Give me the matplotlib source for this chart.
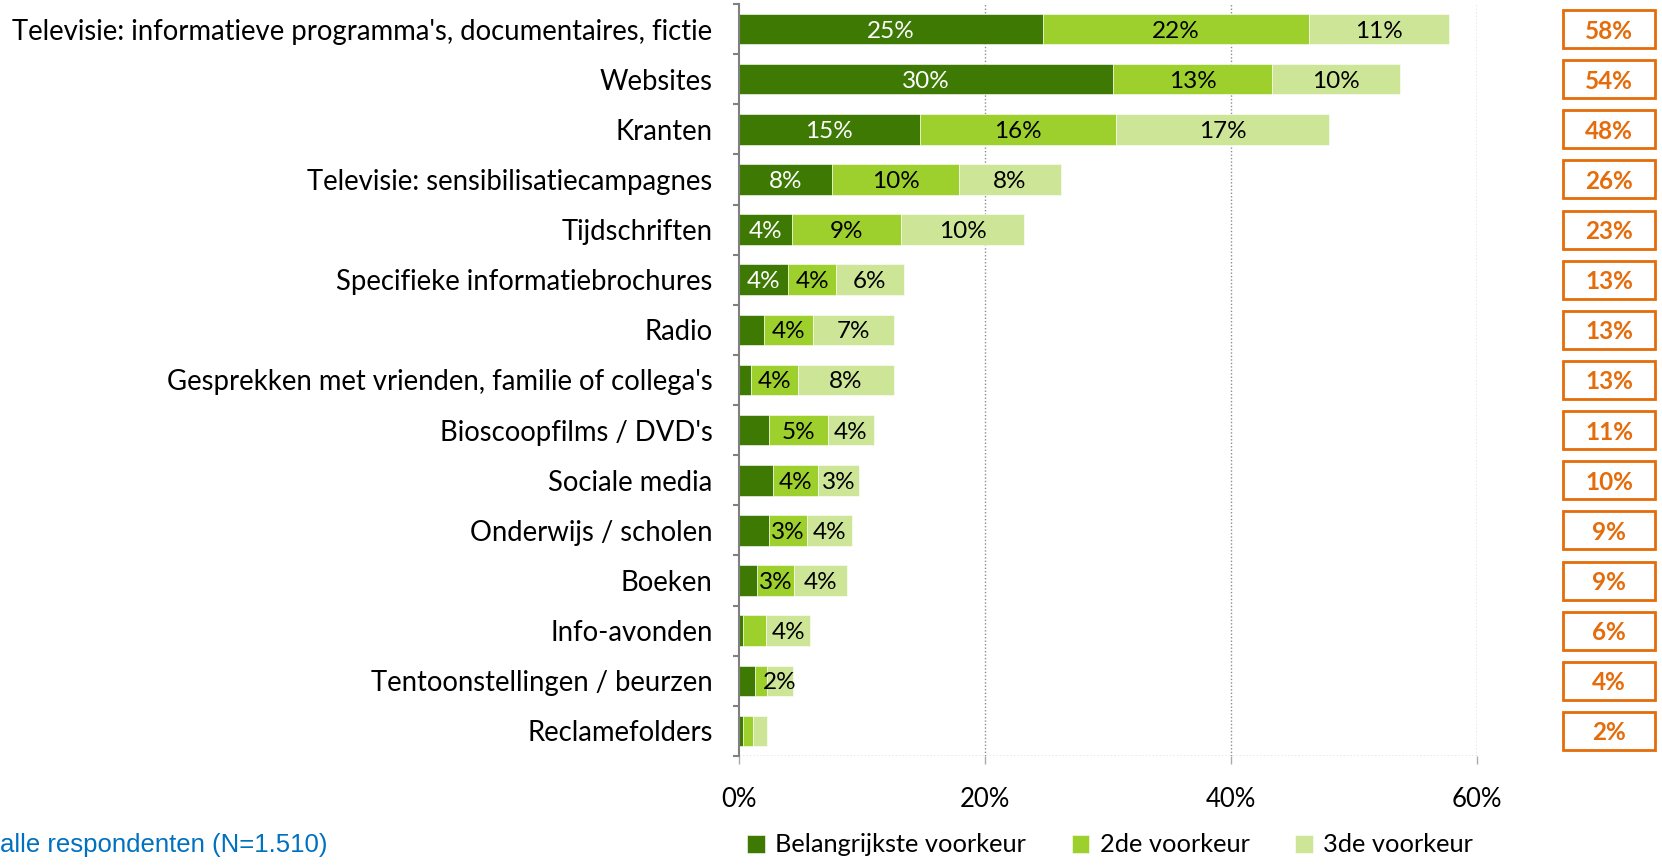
import numpy as np
import matplotlib
matplotlib.use("Agg")
import matplotlib.pyplot as plt
from matplotlib.patches import Rectangle

plt.rcParams['font.family'] = ['Lato', 'DejaVu Sans']

# Media sources, ranked by total preference share
categories = [
    "Televisie: informatieve programma's, documentaires, fictie",
    "Websites",
    "Kranten",
    "Televisie: sensibilisatiecampagnes",
    "Tijdschriften",
    "Specifieke informatiebrochures",
    "Radio",
    "Gesprekken met vrienden, familie of collega's",
    "Bioscoopfilms / DVD's",
    "Sociale media",
    "Onderwijs / scholen",
    "Boeken",
    "Info-avonden",
    "Tentoonstellingen / beurzen",
    "Reclamefolders",
]

# Percent of respondents naming each source as 1st / 2nd / 3rd choice
first_pref = [24.7, 30.4, 14.7, 7.6, 4.3, 4.0, 2.0, 1.0, 2.4, 2.8, 2.4, 1.5, 0.3, 1.3, 0.3]
second_pref = [21.7, 13.0, 16.0, 10.3, 8.9, 3.9, 4.0, 3.8, 4.8, 3.6, 3.1, 3.0, 1.9, 1.0, 0.8]
third_pref = [11.4, 10.4, 17.3, 8.3, 10.0, 5.5, 6.6, 7.8, 3.8, 3.4, 3.7, 4.3, 3.6, 2.1, 1.2]

series_names = ["Belangrijkste voorkeur", "2de voorkeur", "3de voorkeur"]
series_colors = ["#3E7A03", "#9DCF2D", "#CDE597"]
label_colors = ["white", "black", "black"]
label_min = [3.5, 2.0, 2.0]   # segments narrower than this get no label

xticks = [0, 20, 40, 60]

W, H = 1662, 865
fig = plt.figure(figsize=(W / 100, H / 100), dpi=100)
ax = fig.add_axes([739 / W, 1 - 756 / H, (1476.5 - 739) / W, (756 - 4) / H])

y = np.arange(len(categories))
left = np.zeros(len(categories))
for vals, name, col, tcol, vmin in zip([first_pref, second_pref, third_pref],
                                       series_names, series_colors, label_colors, label_min):
    vals = np.array(vals)
    ax.barh(y, vals, left=left, height=0.61, color=col, label=name,
            edgecolor='white', linewidth=0.4)
    for yi, (l, v) in enumerate(zip(left, vals)):
        if v >= vmin:
            ax.text(l + v / 2, yi, f"{v:.0f}%", ha='center', va='center_baseline',
                    color=tcol, fontsize=17.5)
    left = left + vals

ax.set_xlim(0, 60)
ax.set_ylim(len(categories) - 0.5, -0.5)

# Axes styling: dotted grid, gray left spine with boundary ticks
for s in ['top', 'right', 'bottom']:
    ax.spines[s].set_visible(False)
ax.spines['left'].set_color('#808080')
ax.spines['left'].set_linewidth(1.5)
ax.set_axisbelow(True)
ax.axhline(len(categories) - 0.5, color='#8c8c8c', lw=1.0, ls=(0, (1, 1.5)), zorder=0)
for xv in xticks[1:]:
    ax.axvline(xv, color='#8c8c8c', lw=1.0, ls=(0, (1, 1.5)), zorder=0)

ax.set_yticks(y)
ax.set_yticklabels(categories, fontsize=19.8)
ax.tick_params(axis='y', which='major', length=0, pad=19)
ax.set_yticks(np.arange(len(categories) + 1) - 0.5, minor=True)
ax.tick_params(axis='y', which='minor', length=4.5, width=1.5, color='#808080', direction='out')

ax.set_xticks(xticks)
ax.set_xticklabels([f"{t}%" for t in xticks], fontsize=18.5)
ax.tick_params(axis='x', length=6, width=1, color='#aaaaaa', pad=16)

# Totals in orange boxes on the right
totals = np.array(first_pref) + np.array(second_pref) + np.array(third_pref)
for yi, tot in enumerate(totals):
    yc = ax.transData.transform((0, yi))[1]
    yf = yc / H
    bh = 38 / H
    fig.patches.append(Rectangle((1563 / W, yf - bh / 2), 92 / W, bh,
                                 transform=fig.transFigure, fill=False,
                                 edgecolor='#E46C0A', linewidth=2))
    fig.text((1563 + 46) / W, yf, f"{tot:.0f}%", ha='center', va='center_baseline',
             color='#E46C0A', fontsize=17.5, fontweight='bold')

leg = fig.legend(loc='center', bbox_to_anchor=(1110 / W, 1 - 845 / H), ncol=3,
                 frameon=False, fontsize=18.3, handlelength=0.7, handleheight=0.7,
                 handletextpad=0.4, columnspacing=1.8)

fig.text(327 / W, 1 - 845 / H, "alle respondenten (N=1.510)", ha='right', va='center',
         color='#0070C0', fontsize=18.5, family=['Liberation Sans', 'DejaVu Sans'])

fig.savefig("out.png", dpi=100)
